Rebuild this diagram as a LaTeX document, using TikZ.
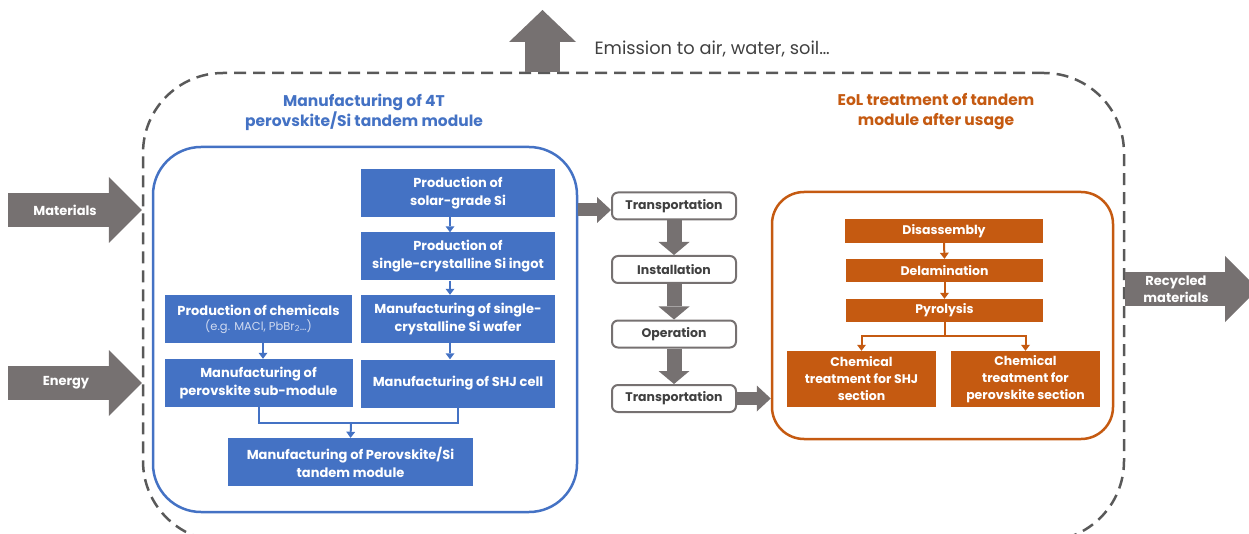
\documentclass[tikz,border=0pt]{standalone}
\usepackage{fontspec}
\setmainfont{Poppins}
\usetikzlibrary{arrows.meta,calc}
\definecolor{bluec}{HTML}{4472C4}
\definecolor{orangec}{HTML}{C55A11}
\definecolor{grayc}{HTML}{767171}
\definecolor{darkc}{HTML}{404040}
\definecolor{dashc}{HTML}{595959}
\definecolor{palec}{HTML}{D0DAF0}
\begin{document}
\begin{tikzpicture}[x=1pt,y=-1pt,
  frame/.style={rounded corners=#1, inner sep=0pt, fill=none},
  bbox/.style={fill=bluec, text=white, font=\bfseries\fontsize{13}{18}\selectfont, align=center, inner sep=0pt, minimum width=194pt, minimum height=48pt},
  obox/.style={fill=orangec, text=white, font=\bfseries\fontsize{12.5}{17}\selectfont, align=center, inner sep=0pt, minimum width=197pt, minimum height=23pt},
  gbox/.style={draw=grayc, line width=2pt, rounded corners=6pt, fill=white, text=darkc, font=\bfseries\fontsize{12.5}{14}\selectfont, minimum width=124pt, minimum height=27pt, inner sep=0pt},
  titletext/.style={font=\bfseries\fontsize{15.5}{20}\selectfont, align=center},
  arrowtext/.style={text=white, font=\bfseries\fontsize{13}{17}\selectfont, align=center},
  barrow/.style={draw=bluec, line width=2pt, -{Triangle[width=9pt,length=6pt,line width=0pt]}},
  bline/.style={draw=bluec, line width=2pt},
  oarrow/.style={draw=orangec, line width=2pt, -{Triangle[width=9pt,length=6pt,line width=0pt]}},
  oline/.style={draw=orangec, line width=2pt},
  garrow/.style={draw=grayc, line width=15pt, -{Triangle[width=31pt,length=13pt,line width=0pt]}},
  sarrow/.style={draw=grayc, line width=13pt, -{Triangle[width=26pt,length=14pt,line width=0pt]}},
  bigarrow/.style={draw=grayc, line width=34pt, -{Triangle[width=66pt,length=33pt,line width=0pt]}},
  emarrow/.style={draw=grayc, line width=35pt, -{Triangle[width=67pt,length=32pt,line width=0pt]}}
]
\useasboundingbox (0,0) rectangle (1249,534);
\clip (0,0) rectangle (1249,534);

% system boundary
\node[frame=80pt, draw=dashc, line width=2.5pt, dash pattern=on 12pt off 7pt, minimum width=981pt, minimum height=468pt] (sys) at (633.5,307) {};

% manufacturing frame
\node[frame=48pt, draw=bluec, line width=2.5pt, minimum width=424pt, minimum height=365pt] (mfg) at (365,329.5) {};
\node[titletext, text=bluec] (mfgt) at (364,112) {Manufacturing of 4T\\perovskite/Si tandem module};

% EoL frame
\node[frame=32pt, draw=orangec, line width=2.5pt, minimum width=341pt, minimum height=247pt] (eol) at (942.5,315.5) {};
\node[titletext, text=orangec] (eolt) at (936,112) {EoL treatment of tandem\\module after usage};

% blue boxes
\node[bbox] (sg) at (458,193) {Production of\\solar-grade Si};
\node[bbox] (ingot) at (458,256.5) {Production of\\single-crystalline Si ingot};
\node[bbox] (wafer) at (458,319) {Manufacturing of single-\\crystalline Si wafer};
\node[bbox] (shj) at (458,383.5) {Manufacturing of SHJ cell};
\node[bbox, minimum width=187pt] (chem) at (258.5,319) {Production of chemicals\\[-3pt]{\mdseries\color{palec}\fontsize{11.5}{13}\selectfont (e.g. MACl, PbBr\textsubscript{2}…)}};
\node[bbox, minimum width=188pt] (sub) at (258.5,383) {Manufacturing of\\perovskite sub-module};
\node[bbox, minimum width=245pt] (tandem) at (350.5,462) {Manufacturing of Perovskite/Si\\tandem module};

\draw[barrow] ([xshift=-8pt]sg.south) -- ([xshift=-8pt]ingot.north);
\draw[barrow] ([xshift=-8pt]ingot.south) -- ([xshift=-8pt]wafer.north);
\draw[barrow] ([xshift=-8pt]wafer.south) -- ([xshift=-8pt]shj.north);
\draw[barrow] ([xshift=4.5pt]chem.south) -- ([xshift=4.5pt]sub.north);
\coordinate (mj) at (351,423);
\draw[bline] (sub.south) |- (mj) -| (shj.south);
\draw[barrow] (mj) -- (tandem.north);

% use phase
\node[gbox] (t1) at (674,206) {Transportation};
\node[gbox] (inst) at (674,269.5) {Installation};
\node[gbox] (op) at (674,334) {Operation};
\node[gbox] (t2) at (674,398.5) {Transportation};
\draw[garrow] (t1.south) -- (inst.north);
\draw[garrow] (inst.south) -- (op.north);
\draw[garrow] (op.south) -- (t2.north);
\coordinate (t1in) at ([yshift=-4pt]t1.west);
\draw[sarrow] (mfg.east |- t1in) -- (t1in);
\draw[sarrow] (t2.east) -- (eol.west |- t2.east);

% EoL boxes
\node[obox, minimum width=198pt, minimum height=24pt] (dis) at (944,231) {Disassembly};
\node[obox] (del) at (944.5,270.5) {Delamination};
\node[obox] (pyr) at (944.5,310.5) {Pyrolysis};
\node[obox, minimum width=149pt, minimum height=56pt] (c1) at (861.5,379) {Chemical\\treatment for SHJ\\section};
\node[obox, minimum width=149pt, minimum height=56pt] (c2) at (1025.5,379) {Chemical\\treatment for\\perovskite section};
\draw[oarrow] (dis.south) -- (del.north);
\draw[oarrow] (del.south) -- (pyr.north);
\coordinate (pj) at (944.5,336);
\draw[oline] (pyr.south) -- (pj);
\draw[oarrow] (pj) -| (c1.north);
\draw[oarrow] (pj) -| (c2.north);

% inputs / outputs
\coordinate (matc) at (65,210);
\coordinate (matfrom) at (8,210);
\draw[bigarrow] (matfrom) -- (sys.west |- matc);
\node[arrowtext] (mat) at (matc) {Materials};

\coordinate (enc) at (66,383);
\coordinate (enfrom) at (8,383);
\draw[bigarrow] (enfrom) -- (sys.west |- enc);
\node[arrowtext] (en) at (enc) {Energy};

\coordinate (recc) at (1176,289);
\coordinate (rectip) at (1258,289);
\draw[bigarrow] (sys.east |- recc) -- (rectip);
\node[arrowtext] (rec) at (recc) {Recycled\\materials};

\coordinate (emtip) at (542.5,10);
\draw[emarrow] (sys.north -| emtip) -- (emtip);
\node[anchor=west, text=darkc, font=\fontsize{17.8}{17.8}\selectfont] (em) at (591,49) {Emission to air, water, soil…};
\end{tikzpicture}
\end{document}
